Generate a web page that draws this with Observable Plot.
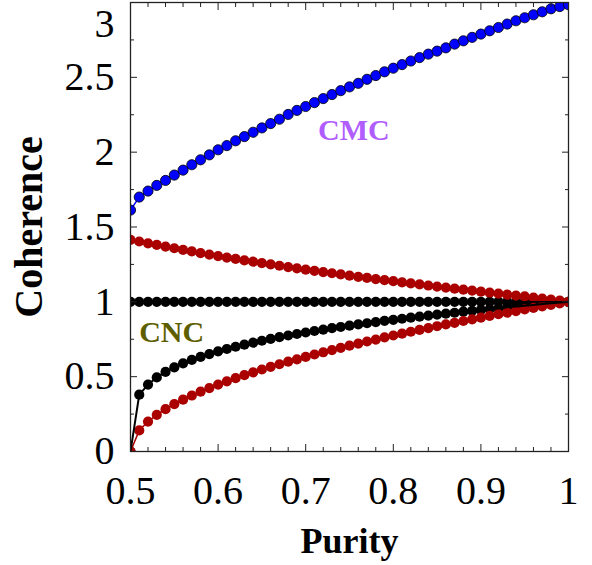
<!DOCTYPE html>
<html>
<head>
<meta charset="utf-8">
<script src="https://cdn.jsdelivr.net/npm/d3@7"></script>
<script src="https://cdn.jsdelivr.net/npm/@observablehq/plot@0.6"></script>
<style>
  body { margin: 0; background: #fff; }
  svg { display: block; }
</style>
</head>
<body>
<div id="chart"></div>
<script>
// Purity grid shared by every curve
const purity = [0.50, 0.51, 0.52, 0.53, 0.54, 0.55, 0.56, 0.57, 0.58, 0.59,
  0.60, 0.61, 0.62, 0.63, 0.64, 0.65, 0.66, 0.67, 0.68, 0.69,
  0.70, 0.71, 0.72, 0.73, 0.74, 0.75, 0.76, 0.77, 0.78, 0.79,
  0.80, 0.81, 0.82, 0.83, 0.84, 0.85, 0.86, 0.87, 0.88, 0.89,
  0.90, 0.91, 0.92, 0.93, 0.94, 0.95, 0.96, 0.97, 0.98, 0.99, 1.00];

// CMC coherence (blue)
const cmc = [1.613, 1.700, 1.740, 1.778, 1.811, 1.847, 1.880, 1.916, 1.949, 1.982,
  2.016, 2.044, 2.076, 2.104, 2.133, 2.162, 2.191, 2.220, 2.252, 2.279,
  2.305, 2.331, 2.358, 2.385, 2.411, 2.436, 2.460, 2.487, 2.512, 2.537,
  2.561, 2.585, 2.609, 2.632, 2.655, 2.675, 2.697, 2.722, 2.744, 2.767,
  2.789, 2.811, 2.833, 2.856, 2.878, 2.898, 2.918, 2.938, 2.958, 2.973, 2.985];

// CNC coherence, upper branch (black, flat)
const cncUpper = [1, 1, 1, 1, 1, 1, 1, 1, 1, 1,
  1, 1, 1, 1, 1, 1, 1, 1, 1, 1,
  1, 1, 1, 1, 1, 1, 1, 1, 1, 1,
  1, 1, 1, 1, 1, 1, 1, 1, 1, 1,
  1, 1, 1, 1, 1, 1, 1, 1, 1, 1, 1];

// CNC coherence, lower branch (black)
const cncLower = [0.000, 0.380, 0.447, 0.495, 0.532, 0.562, 0.589, 0.612, 0.632, 0.651,
  0.669, 0.685, 0.700, 0.714, 0.727, 0.740, 0.752, 0.764, 0.775, 0.785,
  0.795, 0.805, 0.814, 0.824, 0.832, 0.841, 0.849, 0.857, 0.865, 0.873,
  0.880, 0.887, 0.894, 0.901, 0.908, 0.915, 0.921, 0.927, 0.934, 0.940,
  0.946, 0.952, 0.957, 0.963, 0.969, 0.974, 0.979, 0.985, 0.990, 0.995, 1.000];

// Bounds (dark red): upper and lower
const boundUpper = [1.414, 1.403, 1.391, 1.380, 1.369, 1.358, 1.347, 1.337, 1.326, 1.316,
  1.306, 1.296, 1.287, 1.277, 1.268, 1.259, 1.250, 1.241, 1.232, 1.224,
  1.215, 1.207, 1.199, 1.191, 1.183, 1.175, 1.167, 1.160, 1.152, 1.145,
  1.138, 1.130, 1.123, 1.116, 1.109, 1.102, 1.095, 1.088, 1.081, 1.075,
  1.068, 1.061, 1.055, 1.048, 1.042, 1.036, 1.029, 1.022, 1.015, 1.008, 1.000];

const boundLower = [0.000, 0.141, 0.200, 0.245, 0.283, 0.316, 0.346, 0.374, 0.400, 0.424,
  0.447, 0.469, 0.490, 0.510, 0.529, 0.548, 0.566, 0.583, 0.600, 0.616,
  0.632, 0.648, 0.663, 0.678, 0.693, 0.707, 0.721, 0.735, 0.748, 0.762,
  0.775, 0.787, 0.800, 0.812, 0.825, 0.837, 0.849, 0.860, 0.872, 0.883,
  0.894, 0.906, 0.917, 0.927, 0.938, 0.949, 0.959, 0.970, 0.980, 0.990, 1.000];

// Axis ticks and labels
const xTicks = [0.5, 0.6, 0.7, 0.8, 0.9, 1];
const xTickLabels = ["0.5", "0.6", "0.7", "0.8", "0.9", "1"];
const xMinorTicks = [0.52, 0.54, 0.56, 0.58, 0.62, 0.64, 0.66, 0.68, 0.72, 0.74, 0.76, 0.78,
  0.82, 0.84, 0.86, 0.88, 0.92, 0.94, 0.96, 0.98];
const yTicks = [0, 0.5, 1, 1.5, 2, 2.5, 3];
const yTickLabels = ["0", "0.5", "1", "1.5", "2", "2.5", "3"];
const yMinorTicks = [0.25, 0.75, 1.25, 1.75, 2.25, 2.75];

// Curve annotations
const noteText = ["CMC", "CNC"];
const notePurity = [0.755, 0.547];
const noteCoherence = [2.144, 0.793];
const noteColor = ["#b05cff", "#5e5e00"];

const series = (values) => purity.map((p, i) => ({purity: p, coherence: values[i]}));
const notes = noteText.map((t, i) => ({text: t, purity: notePurity[i], coherence: noteCoherence[i], color: noteColor[i]}));

const serif = "'Liberation Serif', 'Times New Roman', serif";
const xLabel = new Map(xTicks.map((d, i) => [d, xTickLabels[i]]));
const yLabel = new Map(yTicks.map((d, i) => [d, yTickLabels[i]]));

const R = 5.1;
const blue = "#0000ff", black = "#000000", red = "#aa0000";
const tickStroke = "#222";

// inward tick marks on all four sides
const inwardTicks = (values, size) => [
  Plot.axisX(values, {anchor: "bottom", tickSize: size, dy: -size, text: null, label: null, stroke: tickStroke}),
  Plot.axisX(values, {anchor: "top", tickSize: size, dy: size, text: null, label: null, stroke: tickStroke}),
];
const inwardTicksY = (values, size) => [
  Plot.axisY(values, {anchor: "left", tickSize: size, dx: size, text: null, label: null, stroke: tickStroke}),
  Plot.axisY(values, {anchor: "right", tickSize: size, dx: -size, text: null, label: null, stroke: tickStroke}),
];

const chart = Plot.plot({
  width: 592,
  height: 565,
  marginLeft: 130,
  marginRight: 24,
  marginTop: 2,
  marginBottom: 114,
  style: {fontFamily: serif, background: "#fff", color: "#000"},
  x: {domain: [0.5, 1], label: null},
  y: {domain: [0, 3], label: null},
  marks: [
    Plot.line(series(cmc), {x: "purity", y: "coherence", stroke: blue, strokeWidth: 1.5, clip: true}),
    Plot.dot(series(cmc), {x: "purity", y: "coherence", r: R, fill: blue, stroke: black, strokeWidth: 0.8, clip: true}),
    Plot.dot(series(cncUpper), {x: "purity", y: "coherence", r: R, fill: black, clip: true}),
    Plot.dot(series(cncLower), {x: "purity", y: "coherence", r: R, fill: black, clip: true}),
    Plot.dot(series(boundUpper), {x: "purity", y: "coherence", r: R, fill: red, clip: true}),
    Plot.dot(series(boundLower), {x: "purity", y: "coherence", r: R, fill: red, clip: true}),
    Plot.line(series(boundUpper), {x: "purity", y: "coherence", stroke: red, strokeWidth: 1.5, clip: true}),
    Plot.line(series(boundLower), {x: "purity", y: "coherence", stroke: red, strokeWidth: 1.5, clip: true}),
    Plot.line(series(cncUpper), {x: "purity", y: "coherence", stroke: black, strokeWidth: 1.5, clip: true}),
    Plot.line(series(cncLower), {x: "purity", y: "coherence", stroke: black, strokeWidth: 2, clip: true}),

    Plot.text(notes, {x: "purity", y: "coherence", text: "text", fill: "color", fontSize: 30, fontWeight: "bold", fontFamily: serif}),

    Plot.frame({stroke: tickStroke, strokeWidth: 1.3}),
    ...inwardTicks(xMinorTicks, 4),
    ...inwardTicks(xTicks, 7),
    ...inwardTicksY(yMinorTicks, 4),
    ...inwardTicksY(yTicks, 7),

    Plot.axisX(xTicks, {anchor: "bottom", tickSize: 0, tickPadding: 24, fontSize: 40, fontFamily: serif,
      tickFormat: (d) => xLabel.get(d), label: null}),
    Plot.axisY(yTicks.filter((d) => d < 3), {anchor: "left", tickSize: 0, tickPadding: 16, fontSize: 40, fontFamily: serif,
      tickFormat: (d) => yLabel.get(d), label: null}),
    Plot.axisY([3], {anchor: "left", tickSize: 0, tickPadding: 16, dy: 22, fontSize: 40, fontFamily: serif,
      tickFormat: (d) => yLabel.get(d), label: null}),

    Plot.text(["Purity"], {frameAnchor: "bottom", dy: 90, lineAnchor: "middle", textAnchor: "middle",
      fontSize: 36, fontWeight: "bold", fontFamily: serif}),
    Plot.text(["Coherence"], {frameAnchor: "left", dx: -101, rotate: -90, lineAnchor: "middle", textAnchor: "middle",
      fontSize: 40, fontWeight: "bold", fontFamily: serif})
  ]
});

document.getElementById("chart").appendChild(chart);
</script>
</body>
</html>
